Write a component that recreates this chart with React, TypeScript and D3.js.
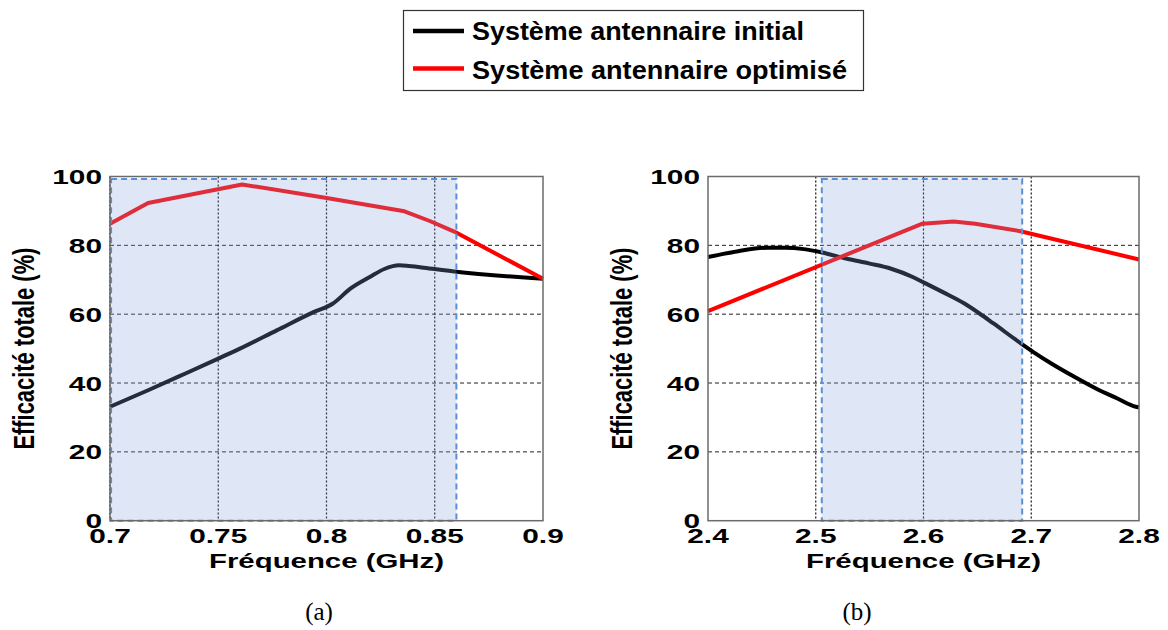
import React from "react";
import * as d3 from "d3";

// ---- Data ----
const legendLabels = ["Système antennaire initial", "Système antennaire optimisé"];
const seriesColors = ["#000000", "#ff0000"];

const yTicks = [0, 20, 40, 60, 80, 100];

const aXTicks = [0.7, 0.75, 0.8, 0.85, 0.9];
const aXTickLabels = ["0.7", "0.75", "0.8", "0.85", "0.9"];
const aGridX = [0.7, 0.75, 0.8, 0.85];
const aBand = [0.7005, 0.86];
const aInitial: [number, number][] = [
  [0.7, 33.1], [0.7176, 37.9], [0.7346, 42.7], [0.75, 47.1], [0.76, 50.0],
  [0.777, 55.3], [0.794, 60.6], [0.803, 63.1], [0.811, 67.4], [0.82, 70.8],
  [0.827, 73.2], [0.8335, 74.2], [0.837, 74.1], [0.845, 73.5], [0.859, 72.4],
  [0.9, 70.3],
];
const aOptim: [number, number][] = [
  [0.7, 86.3], [0.7176, 92.3], [0.761, 97.7], [0.7994, 93.8], [0.836, 89.9],
  [0.848, 87.0], [0.859, 84.0], [0.9, 70.3],
];

const bXTicks = [2.4, 2.5, 2.6, 2.7, 2.8];
const bXTickLabels = ["2.4", "2.5", "2.6", "2.7", "2.8"];
const bGridX = [2.5, 2.6, 2.7];
const bBand = [2.5056, 2.6916];
const bInitial: [number, number][] = [
  [2.4, 76.6], [2.428, 78.3], [2.455, 79.3], [2.472, 79.3], [2.489, 78.9],
  [2.505, 78.0], [2.529, 76.1], [2.55, 74.7], [2.57, 73.2], [2.59, 70.8],
  [2.601, 69.1], [2.618, 66.4], [2.638, 63.1], [2.652, 60.2], [2.665, 57.3],
  [2.69, 51.6], [2.702, 49.0], [2.719, 45.6], [2.74, 41.8], [2.76, 38.4],
  [2.78, 35.5], [2.797, 33.1], [2.8, 32.9],
];
const bOptim: [number, number][] = [
  [2.4, 60.9], [2.599, 86.3], [2.628, 86.9], [2.648, 86.3], [2.69, 84.1], [2.8, 75.9],
];

const xTitle = "Fréquence (GHz)";
const yTitle = "Efficacité totale (%)";
const panelLabels = ["(a)", "(b)"];

const FONT = "'Liberation Sans', Arial, Helvetica, sans-serif";
const SX = 1.42;

function SText(props: {
  x: number; y: number; anchor?: string; size?: number; weight?: string | number;
  children: React.ReactNode; sx?: number;
}) {
  const { x, y, anchor = "middle", size = 21, weight = "bold", children, sx = SX } = props;
  return (
    <text
      transform={`translate(${x},${y}) scale(${sx},1)`}
      textAnchor={anchor}
      fontFamily={FONT}
      fontSize={size}
      fontWeight={weight}
      fill="#000"
    >
      {children}
    </text>
  );
}

function Panel(props: {
  left: number; right: number; top: number; bottom: number;
  domain: [number, number]; ticks: number[]; tickLabels: string[]; gridX: number[];
  band: number[]; initial: [number, number][]; optim: [number, number][];
  label: string; labelX: number;
}) {
  const { left, right, top, bottom, domain, ticks, tickLabels, gridX, band, initial, optim, label, labelX } = props;
  const x = d3.scaleLinear().domain(domain).range([left, right]);
  const y = d3.scaleLinear().domain([0, 100]).range([bottom, top]);
  const smooth = d3.line<[number, number]>().x((d) => x(d[0])).y((d) => y(d[1])).curve(d3.curveMonotoneX);
  const linear = d3.line<[number, number]>().x((d) => x(d[0])).y((d) => y(d[1])).curve(d3.curveLinear);
  const cx = (left + right) / 2;
  const cy = (top + bottom) / 2;
  return (
    <g>
      {yTicks.filter((t) => t > 0 && t < 100).map((t) => (
        <line key={"h" + t} x1={left} x2={right} y1={y(t)} y2={y(t)} stroke="#222" strokeWidth={1} strokeDasharray="4,3" />
      ))}
      {gridX.map((t) => (
        <line key={"v" + t} x1={x(t)} x2={x(t)} y1={top} y2={bottom} stroke="#111" strokeWidth={1.2} strokeDasharray="2,2" />
      ))}
      <path d={smooth(initial) || ""} fill="none" stroke={seriesColors[0]} strokeWidth={4} strokeLinejoin="round" />
      <path d={linear(optim) || ""} fill="none" stroke={seriesColors[1]} strokeWidth={4} strokeLinejoin="round" />
      <rect x={x(band[0])} y={y(99.3)} width={x(band[1]) - x(band[0])} height={y(0) - y(99.3)}
        fill="rgb(138,165,220)" fillOpacity={0.27} stroke="#5b8fd8" strokeWidth={2} strokeDasharray="6,4" />
      <rect x={left} y={top} width={right - left} height={bottom - top} fill="none" stroke="#6b6b6b" strokeWidth={1.5} />
      {yTicks.map((t) => (
        <SText key={"yt" + t} x={left - 8} y={y(t) + 7.5} anchor="end">{String(t)}</SText>
      ))}
      {ticks.map((t, i) => (
        <SText key={"xt" + t} x={x(t)} y={bottom + 22.5}>{tickLabels[i]}</SText>
      ))}
      <SText x={cx} y={bottom + 47} size={21} sx={1.4}>{xTitle}</SText>
      <text
        transform={`translate(${left - 76},${cy}) scale(1.4,1) rotate(-90)`}
        textAnchor="middle"
        fontFamily={FONT}
        fontSize={21}
        fontWeight="bold"
        textLength={202}
        lengthAdjust="spacingAndGlyphs"
        fill="#000"
      >
        {yTitle}
      </text>
      <text x={labelX} y={620} textAnchor="middle" fontFamily="'Liberation Serif', 'Times New Roman', serif" fontSize={25} fill="#000">
        {label}
      </text>
    </g>
  );
}

export default function App() {
  const legendLens = [332, 375];
  return (
    <svg width={1168} height={630} style={{ position: "absolute", left: 0, top: 0, background: "#fff" }}>
      <rect x={0} y={0} width={1168} height={630} fill="#fff" />
      <rect x={403.5} y={10.5} width={460} height={80} fill="#fff" stroke="#333" strokeWidth={1.2} />
      {legendLabels.map((l, i) => (
        <g key={l}>
          <line x1={413} x2={464} y1={31 + i * 37.5} y2={31 + i * 37.5} stroke={seriesColors[i]} strokeWidth={4.5} />
          <text x={472} y={40 + i * 38.5} fontFamily={FONT} fontSize={26} fontWeight="bold" fill="#000"
            textLength={legendLens[i]} lengthAdjust="spacingAndGlyphs">{l}</text>
        </g>
      ))}
      <Panel left={110} right={543} top={176.5} bottom={520.7} domain={[0.7, 0.9]}
        ticks={aXTicks} tickLabels={aXTickLabels} gridX={aGridX} band={aBand}
        initial={aInitial} optim={aOptim} label={panelLabels[0]} labelX={319} />
      <Panel left={708} right={1139} top={176.5} bottom={520.7} domain={[2.4, 2.8]}
        ticks={bXTicks} tickLabels={bXTickLabels} gridX={bGridX} band={bBand}
        initial={bInitial} optim={bOptim} label={panelLabels[1]} labelX={857} />
    </svg>
  );
}
